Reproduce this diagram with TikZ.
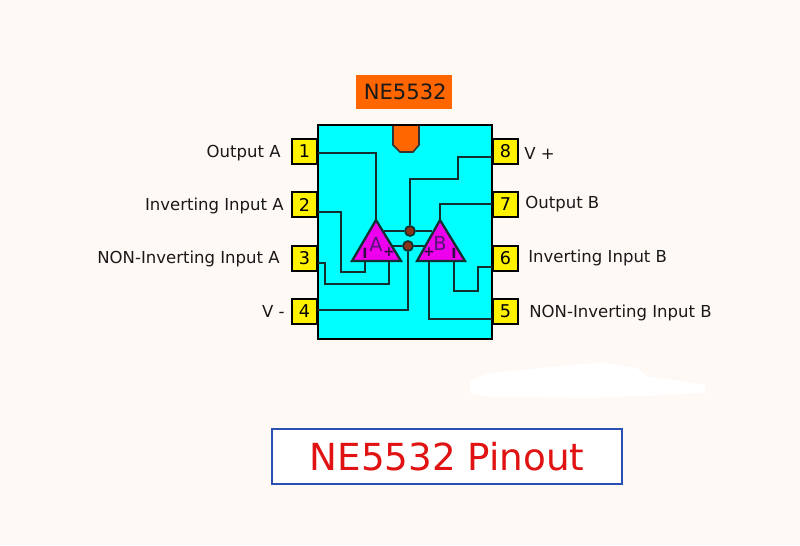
\documentclass[tikz,border=0pt]{standalone}
\usepackage{fontspec}
\setmainfont{DejaVu Sans}
\definecolor{bgcream}{HTML}{FFF9F6}
\definecolor{wirecol}{HTML}{123030}
\definecolor{chipcyan}{HTML}{00FFFF}
\definecolor{notchorange}{HTML}{FF6600}
\definecolor{opampmag}{HTML}{EE00EE}
\definecolor{dotbrown}{HTML}{8A3418}
\definecolor{titleblue}{HTML}{2A50B4}
\definecolor{titlered}{HTML}{E01212}
\definecolor{opamptext}{HTML}{561478}
\tikzset{
    pinbox/.style={rectangle, draw=black, fill=yellow, line width=1.1pt, minimum height=0.5cm, minimum width=0.5cm, inner sep=0pt, font=\fontsize{10}{12}\selectfont},
    pinlabel/.style={inner sep=0pt, font=\fontsize{9.4}{11}\selectfont, text=black!90},
    wire/.style={draw=wirecol, line width=1.2pt},
    opamp/.style={draw=wirecol, fill=opampmag, line width=1.3pt, line join=miter},
    opampname/.style={inner sep=0pt, text=opamptext, font=\fontsize{11}{13}\selectfont},
    polarity/.style={inner sep=0pt, text=opamptext!60!black, font=\bfseries\fontsize{8}{10}\selectfont},
    joint/.style={circle, draw=wirecol, fill=dotbrown, line width=1pt, minimum size=0.2cm, inner sep=0pt}
}
\begin{document}
\begin{tikzpicture}[x=0.02cm, y=-0.02cm]
    % Background
    \fill[bgcream] (0,0) rectangle (800,545);
    \useasboundingbox (0,0) rectangle (800,545);
    \fill[white] (470,380) -- (490,373) -- (603,362) -- (637,368) -- (647,376) -- (705,385) -- (705,393) -- (593,398) -- (490,397) -- (470,393) -- cycle;

    % Part name
    \node[rectangle, fill=notchorange, minimum height=0.68cm, minimum width=1.92cm, inner sep=0pt, font=\fontsize{12}{15}\selectfont, text=black!90] (partname) at (404,92) {\hspace{0.05cm}NE5532};

    % Package
    \node[rectangle, draw=black, fill=chipcyan, line width=1.1pt, minimum height=4.28cm, minimum width=3.48cm, inner sep=0pt] (chip) at (405,232) {};
    \draw[draw=black!80, fill=notchorange, line width=0.9pt] (393,126) -- (393,145) -- (400,152) -- (413,152) -- (419,145) -- (419,126);

    \node[pinbox] (pin1) at (304.5,151.5) {1};
    \node[pinbox] (pin2) at (304.5,204.5) {2};
    \node[pinbox] (pin3) at (304.5,258.5) {3};
    \node[pinbox] (pin4) at (304.5,311.5) {4};
    \node[pinbox] (pin8) at (505.5,151.5) {8};
    \node[pinbox] (pin7) at (505.5,204.5) {7};
    \node[pinbox] (pin6) at (505.5,258.5) {6};
    \node[pinbox] (pin5) at (505.5,311.5) {5};

    % Pin names
    \node[pinlabel, anchor=east] (name1) at (281,153) {Output A};
    \node[pinlabel, anchor=east] (name2) at (284,206) {Inverting Input A};
    \node[pinlabel, anchor=east] (name3) at (280,259) {NON-Inverting Input A};
    \node[pinlabel, anchor=east] (name4) at (285,311) {V -};
    \node[pinlabel, anchor=west] (name8) at (524,153) {V +};
    \node[pinlabel, anchor=west] (name7) at (525,204) {Output B};
    \node[pinlabel, anchor=west] (name6) at (528,258) {Inverting Input B};
    \node[pinlabel, anchor=west] (name5) at (529,313) {NON-Inverting Input B};

    % Op amp corners
    \coordinate (atop) at (376,220);
    \coordinate (aminus) at (365,261);
    \coordinate (aplus) at (389,261);
    \coordinate (btop) at (440,220);
    \coordinate (bplus) at (429,261);
    \coordinate (bminus) at (454,261);
    \coordinate (aupper) at (384,231);
    \coordinate (alower) at (392,246);
    \coordinate (bupper) at (432,231);
    \coordinate (blower) at (425,246);

    \node[joint] (vplus) at (410,231) {};
    \node[joint] (vminus) at (408,246) {};

    % Wires
    \draw[wire] (pin1.east) ++(0,1.5) -| (atop);
    \draw[wire] (pin2.east) ++(0,7.5) -| (341,272) -| (aminus);
    \draw[wire] (pin3.east) ++(0,4.5) -| (325,284) -| (aplus);
    \draw[wire] (pin4.east) ++(0,-1.5) -| (vminus);
    \draw[wire] (pin8.west) ++(0,5.5) -| (458,179) -| (vplus);
    \draw[wire] (pin7.west) ++(0,-0.5) -| (btop);
    \draw[wire] (pin6.west) ++(0,8.5) -| (478,291) -| (bminus);
    \draw[wire] (pin5.west) ++(0,7.5) -| (bplus);
    \draw[wire] (aupper) -- (vplus) -- (bupper);
    \draw[wire] (alower) -- (vminus) -- (blower);

    % Op amps
    \draw[opamp] (atop) -- (401,261) -- (352,261) -- cycle;
    \draw[opamp] (btop) -- (465,261) -- (417,261) -- cycle;
    \node[opampname] (aname) at (376,244) {A};
    \node[opampname] (bname) at (440,243) {B};
    \node[polarity] (aminusmark) at (365,253) {I};
    \node[polarity] (aplusmark) at (389,252) {+};
    \node[polarity] (bplusmark) at (429,252) {+};
    \node[polarity] (bminusmark) at (454,253) {I};

    % Title
    \node[rectangle, draw=titleblue, fill=white, line width=1.1pt, minimum height=1.1cm, minimum width=7cm, inner sep=0pt, font=\fontsize{21.2}{25}\selectfont, text=titlered] (title) at (447,456.5) {NE5532 Pinout};
\end{tikzpicture}
\end{document}
